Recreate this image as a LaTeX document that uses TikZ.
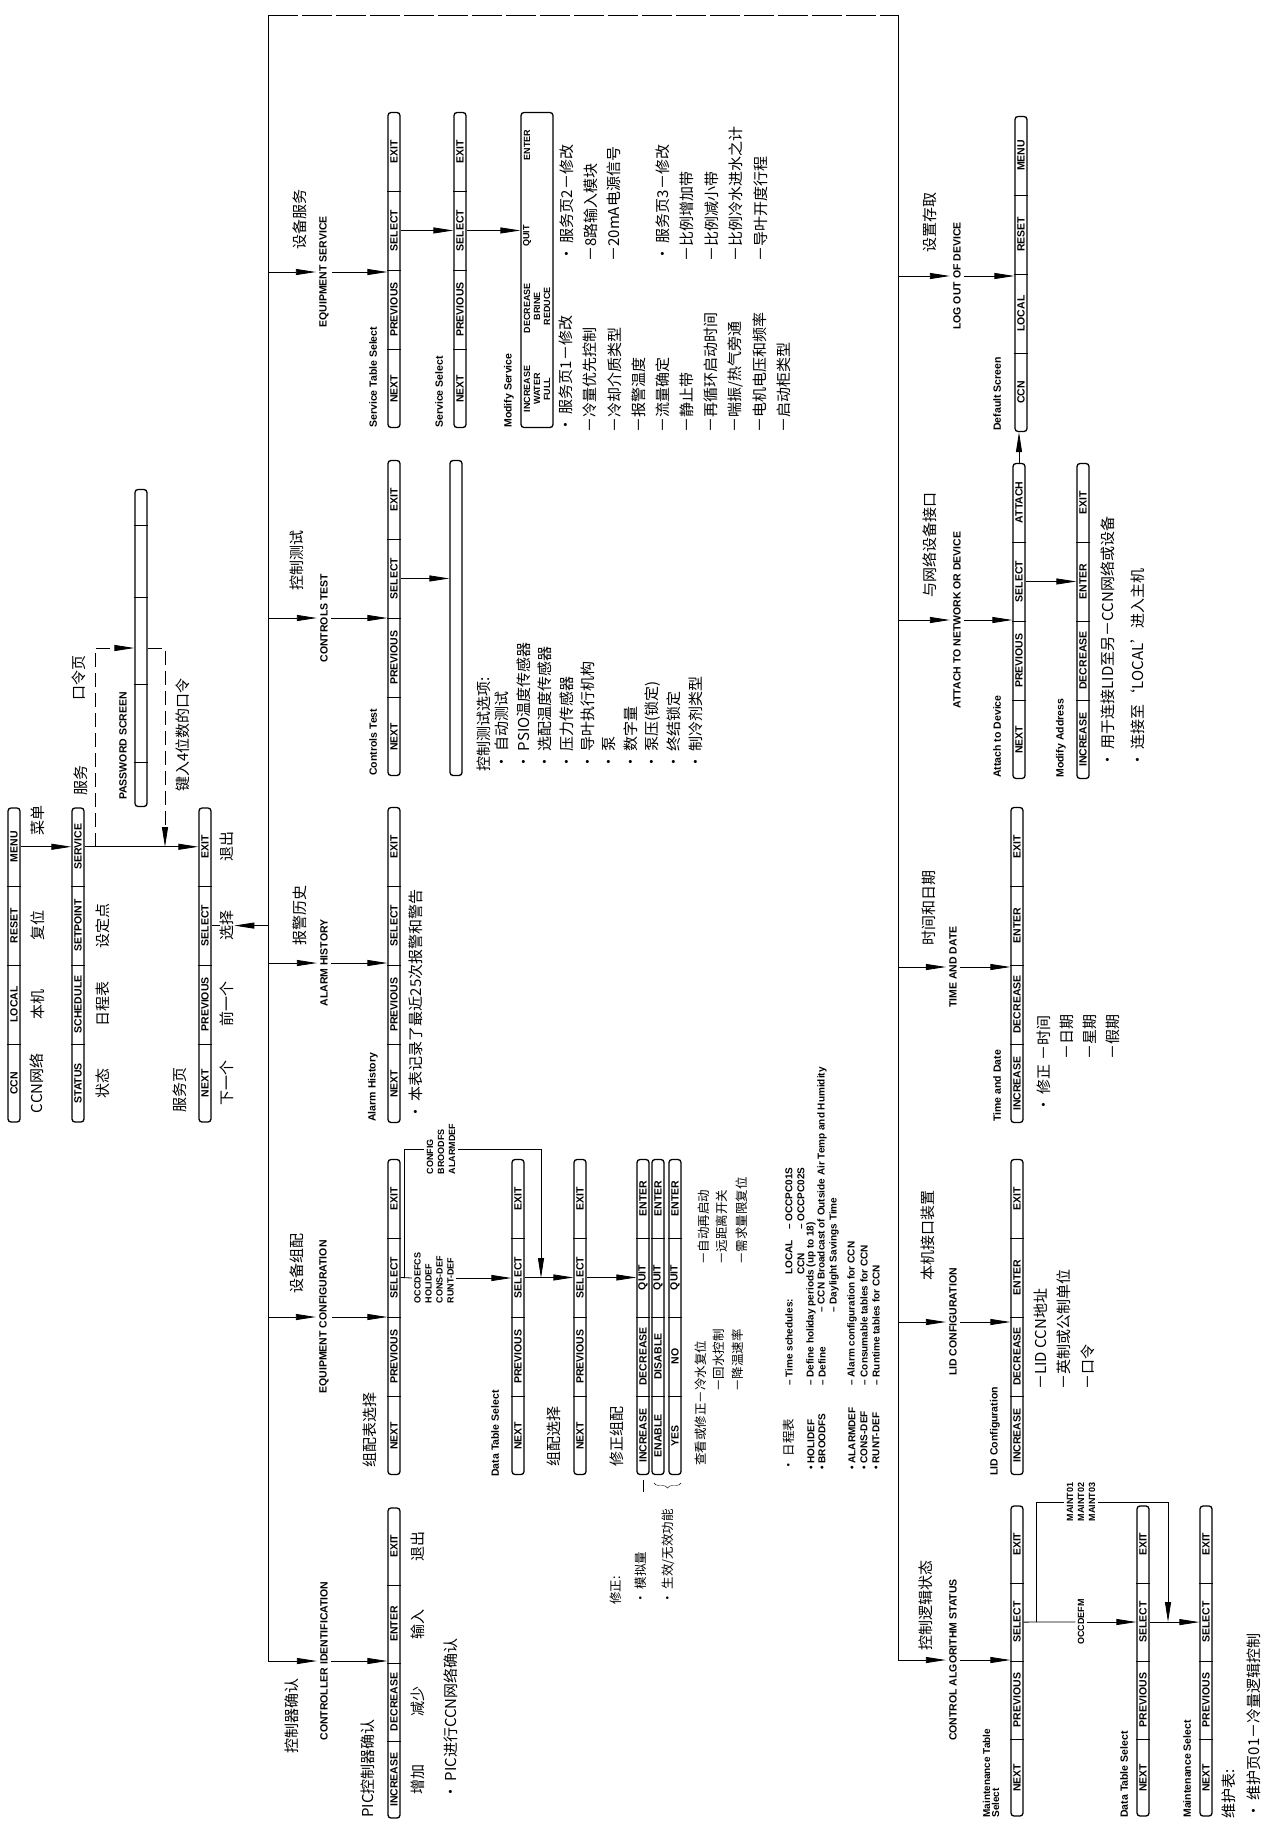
\documentclass[tikz,border=0pt]{standalone}
\usepackage{fontspec}
\newfontfamily\enfont{Liberation Sans}
\newfontfamily\cnfont{Noto Sans CJK SC}
\usetikzlibrary{arrows.meta,calc,decorations.pathreplacing}

\tikzset{
  barbox/.style={draw, line width=1.3pt, rounded corners=3pt, rotate=90,
    minimum width=315pt, minimum height=12pt, inner sep=0pt},
  keytxt/.style={rotate=90, inner sep=0pt, font=\enfont\bfseries\fontsize{10.5}{10.5}\selectfont},
  msrow/.style={rotate=90, inner sep=0pt, font=\enfont\bfseries\fontsize{9}{9}\selectfont},
  branchtxt/.style={rotate=90, inner sep=3pt, font=\enfont\bfseries\fontsize{10.5}{10.5}\selectfont},
  bartxt/.style={rotate=90, anchor=west, inner sep=0pt, font=\enfont\bfseries\fontsize{10.5}{10.5}\selectfont},
  entxt/.style={rotate=90, anchor=west, inner sep=0pt, font=\enfont\bfseries\fontsize{10}{10}\selectfont},
  tagtxt/.style={rotate=90, inner sep=2pt, align=left, font=\enfont\bfseries\fontsize{9}{11}\selectfont},
  cntxt/.style={rotate=90, inner sep=0pt, font=\cnfont\fontsize{15}{15}\selectfont},
  cnlist/.style={cntxt, anchor=west},
  cnsmall/.style={cnlist, font=\cnfont\fontsize{12.5}{12.5}\selectfont},
  arrowto/.style={-{Triangle[length=20pt,width=6pt]}},
  pwdash/.style={dash pattern=on 14pt off 6pt},
}

% soft key bar: name, centre, length, four keys (read from bottom to top)
\newcommand{\keybar}[7]{%
  \node[barbox, minimum width=#3pt] (#1) at (#2) {};
  \path (#1.west) -- (#1.east)
    node[keytxt, pos=.125] (#1-1) {#4}
    node[keytxt, pos=.375] (#1-2) {#5}
    node[keytxt, pos=.625] (#1-3) {#6}
    node[keytxt, pos=.875] (#1-4) {#7};
  \foreach \p in {.25,.5,.75}
    \draw[thin] ($(#1.north west)!\p!(#1.north east)$) -- ($(#1.south west)!\p!(#1.south east)$);
}

\begin{document}
\begin{tikzpicture}[x=1pt, y=-1pt, line width=.8pt]
  \useasboundingbox (0,0) rectangle (1272,1821);
  \fill[white] (0,0) rectangle (1272,1821);

  % MAIN MENU
  \keybar{ma}{14,965}{314}{CCN}{LOCAL}{RESET}{MENU}
  \keybar{mb}{78,965}{314}{STATUS}{SCHEDULE}{SETPOINT}{SERVICE}
  \keybar{mc}{205,965}{314}{NEXT}{PREVIOUS}{SELECT}{EXIT}
  \node[barbox, minimum width=317pt] (pw) at (141,648) {};
  \foreach \p in {.14,.385,.66,.885}
    \draw[thin] ($(pw.north west)!\p!(pw.north east)$) -- ($(pw.south west)!\p!(pw.south east)$);

  \node[cntxt] (ma1t) at ([xshift=23pt]ma-1) {CCN网络};
  \node[cntxt] (ma2t) at ([xshift=24pt]ma-2) {本机};
  \node[cntxt] (ma3t) at ([xshift=24pt]ma-3) {复位};
  \node[cntxt] (ma4t) at (38,820) {菜单};
  \node[cntxt] (mb1t) at ([xshift=25pt]mb-1) {状态};
  \node[cntxt] (mb2t) at ([xshift=25pt]mb-2) {日程表};
  \node[cntxt] (mb3t) at ([xshift=25pt]mb-3) {设定点};
  \node[cntxt] (svc) at (81,780) {服务};
  \node[cntxt] (pwc) at (79,678) {口令页};
  \node[branchtxt, inner sep=0pt] (pwe) at (123,746) {PASSWORD SCREEN};
  \node[cntxt] (pwk) at (183,735) {键入4位数的口令};
  \node[cntxt] (mcl) at (180,1090) {服务页};
  \node[cntxt] (mc1t) at ([xshift=22pt]mc-1) {下一个};
  \node[cntxt] (mc2t) at ([xshift=22pt]mc-2) {前一个};
  \node[cntxt] (mc3t) at ([xshift=22pt]mc-3) {选择};
  \node[cntxt] (mc4t) at ([xshift=22pt]mc-4) {退出};

  \coordinate (pwa) at (95,847);
  \coordinate (pwb) at (165,847);
  \draw[arrowto] (ma-4 -| ma.south) -- (ma-4 -| mb.north);
  \draw[arrowto] (mb-4 -| mb.south) -- (mb-4 -| mc.north);
  \draw[pwdash, arrowto] (pwa) |- (pw.north);
  \draw[pwdash, arrowto] (pw.south) -| (pwb);

  % BUSES
  \coordinate (ltop) at (268,15);
  \coordinate (lbot) at (268,1661);
  \coordinate (rtop) at (898,15);
  \coordinate (rbot) at (898,1660);
  \draw (lbot) -- (ltop);
  \draw[line width=.6pt, dash pattern=on 30pt off 4pt] (ltop) -- (rtop);
  \draw (rtop) -- (rbot);
  \draw (mc-3 -| mc.south) -- (mc3t.north);
  \draw[{Triangle[length=20pt,width=6pt]}-] (mc3t.south) -- (ltop |- mc3t);

  % LEFT BRANCHES
  \keybar{sts}{394,270}{315}{NEXT}{PREVIOUS}{SELECT}{EXIT}
  \keybar{ctb}{394,618}{315}{NEXT}{PREVIOUS}{SELECT}{EXIT}
  \keybar{ahb}{394,965}{315}{NEXT}{PREVIOUS}{SELECT}{EXIT}
  \keybar{cfs}{394,1317}{315}{NEXT}{PREVIOUS}{SELECT}{EXIT}
  \keybar{pic}{394,1663}{310}{INCREASE}{DECREASE}{ENTER}{EXIT}

  \node[branchtxt] (es) at (324,272) {EQUIPMENT SERVICE};
  \node[cntxt] (esc) at (300,219) {设备服务};
  \node[branchtxt] (ct) at (324,618) {CONTROLS TEST};
  \node[cntxt] (ctc) at (297,560) {控制测试};
  \node[branchtxt] (ah) at (324,963) {ALARM HISTORY};
  \node[cntxt] (ahc) at (300,915) {报警历史};
  \node[branchtxt] (ec) at (324,1317) {EQUIPMENT CONFIGURATION};
  \node[cntxt] (ecc) at (297,1263) {设备组配};
  \node[branchtxt] (ci) at (324,1661) {CONTROLLER IDENTIFICATION};
  \node[cntxt] (cic) at (292,1716) {控制器确认};

  \foreach \b/\t in {es/sts, ct/ctb, ah/ahb, ec/cfs} {
    \draw[arrowto] (ltop |- \b) -- (\b.north);
    \draw[arrowto] (\b.south) -- (\b.south -| \t.north);
  }
  \draw[arrowto] (lbot) -- (ci.north);
  \draw[arrowto] (ci.south) -- (ci.south -| pic.north);

  \node[bartxt] (stsl) at (373,428) {Service Table Select};
  \node[bartxt] (ctbl) at (373,776) {Controls Test};
  \node[bartxt] (ahbl) at (373,1122) {Alarm History};
  \node[cnlist] (cfsl) at (370,1468) {组配表选择};
  \node[cnlist] (picl) at (368,1818) {PIC控制器确认};
  \node[cntxt] (pic1t) at ([xshift=24pt]pic-1) {增加};
  \node[cntxt] (pic2t) at ([xshift=24pt]pic-2) {减少};
  \node[cntxt] (pic3t) at ([xshift=24pt]pic-3) {输入};
  \node[cntxt] (pic4t) at ([xshift=24pt]pic-4) {退出};
  \node[cnlist] (picn) at (451,1800) {• PIC进行CCN网络确认};

  % equipment service
  \keybar{ss}{460,270}{315}{NEXT}{PREVIOUS}{SELECT}{EXIT}
  \node[barbox, minimum height=32pt] (ms) at (537,270) {};
  \node[msrow] (ms1) at (527,389) {INCREASE};
  \node[msrow] (ms2) at (527,308) {DECREASE};
  \node[msrow] (ms3) at (527,236) {QUIT};
  \node[msrow] (ms4) at (527,145) {ENTER};
  \node[msrow] (ms5) at (537,389) {WATER};
  \node[msrow] (ms6) at (537,306) {BRINE};
  \node[msrow] (ms7) at (547,389) {FULL};
  \node[msrow] (ms8) at (547,306) {REDUCE};
  \node[bartxt] (ssl) at (439,428) {Service Select};
  \node[bartxt] (msl0) at (509,428) {Modify Service};
  \draw[arrowto] (sts-3 -| sts.south) -- (sts-3 -| ss.north);
  \draw[arrowto] (ss-3 -| ss.south) -- (ss-3 -| ms.north);

  \foreach \lbl [count=\i from 0] in {• 服务页1－修改, －冷量优先控制, －冷却介质类型, －报警温度, －流量确定,
      －静止带, －再循环启动时间, －喘振/热气旁通, －电机电压和频率, －启动柜类型}
    \node[cnlist] (sa\i) at ({566+24.2*\i},433) {\lbl};
  \foreach \x/\lbl [count=\i] in {567/• 服务页2－修改, 591/－8路输入模块, 614/－20mA电源信号,
      663/• 服务页3－修改, 687/－比例增加带, 712/－比例减小带, 736/－比例冷水进水之计, 761/－导叶开度行程}
    \node[cnlist] (sb\i) at (\x,262) {\lbl};

  % controls test
  \node[barbox] (ctt) at (456,618) {};
  \draw[arrowto] (ctb-3 -| ctb.south) -- (ctb-3 -| ctt.north);
  \node[cnlist] (ctl0) at (484,772) {控制测试选项:};
  \foreach \lbl [count=\i] in {• 自动测试, • PSIO温度传感器, • 选配温度传感器, • 压力传感器, • 导叶执行机构,
      • 泵, • 数字量, • 泵压(锁定), • 终结锁定, • 制冷剂类型}
    \node[cnlist] (ctl\i) at ({480.5+21.5*\i},770) {\lbl};

  % alarm history
  \node[cnlist] (ahn) at (416,1120) {• 本表记录了最近25次报警和警告};

  % equipment configuration
  \keybar{dts}{518,1317}{315}{NEXT}{PREVIOUS}{SELECT}{EXIT}
  \keybar{cs2}{580,1317}{315}{NEXT}{PREVIOUS}{SELECT}{EXIT}
  \keybar{mf1}{643,1317}{315}{INCREASE}{DECREASE}{QUIT}{ENTER}
  \keybar{mf2}{658,1317}{315}{ENABLE}{DISABLE}{QUIT}{ENTER}
  \keybar{mf3}{675,1317}{315}{YES}{NO}{QUIT}{ENTER}
  \node[bartxt] (dtsl) at (495,1477) {Data Table Select};
  \node[cnlist] (cs2l) at (554,1467) {组配选择};
  \node[cnlist] (mfl) at (617,1467) {修正组配};

  \node[tagtxt] (occ) at (434,1278) {OCCDEFCS\\HOLIDEF\\CONS-DEF\\RUNT-DEF};
  \node[tagtxt] (cfg) at (441,1149) {CONFIG\\BROODFS\\ALARMDEF};
  \coordinate (cj1) at (404,1278);
  \coordinate (cj2) at (541,1278);
  \draw (cfs-3 -| cfs.south) -- (occ.north);
  \draw[arrowto] (occ.south) -- (occ.south -| dts.north);
  \draw (cj1) |- (cfg.north);
  \draw[arrowto] (cfg.south) -| (cj2);
  \draw[arrowto] (dts-3 -| dts.south) -- (dts-3 -| cs2.north);
  \draw[arrowto] (cs2-3 -| cs2.south) -- (cs2-3 -| mf1.north);

  \draw (643,1480) -- (643,1492);
  \draw[thin, decorate, decoration={brace, amplitude=5pt}] (681,1483) -- (654,1483);
  \node[cnsmall] (mfa) at (616,1605) {修正:};
  \node[cnsmall] (mfb) at (641,1605) {• 模拟量};
  \node[cnsmall] (mfc) at (668,1605) {• 生效/无效功能};

  \node[cnsmall] (vw1) at (701,1466) {查看或修正－冷水复位};
  \node[cnsmall] (vw2) at (719,1392) {－回水控制};
  \node[cnsmall] (vw3) at (738,1392) {－降温速率};
  \node[cnsmall] (vw4) at (704,1265) {－自动再启动};
  \node[cnsmall] (vw5) at (722,1265) {－远距离开关};
  \node[cnsmall] (vw6) at (742,1265) {－需求量限复位};

  \node[cnsmall] (sch0) at (789,1472) {• 日程表};
  \node[entxt] (sch1) at (789,1386) {– Time schedules:};
  \node[entxt] (sch2) at (789,1275) {LOCAL};
  \node[entxt] (sch3) at (801,1275) {CCN};
  \node[entxt] (sch4) at (789,1230) {– OCCPC01S};
  \node[entxt] (sch5) at (801,1230) {– OCCPC02S};
  \node[entxt] (hol0) at (811,1470) {• HOLIDEF};
  \node[entxt] (hol1) at (811,1386) {– Define holiday periods (up to 18)};
  \node[entxt] (brd0) at (822,1470) {• BROODFS};
  \node[entxt] (brd1) at (822,1386) {– Define};
  \node[entxt] (brd2) at (822,1313) {– CCN Broadcast of Outside Air Temp and Humidity};
  \node[entxt] (brd3) at (834,1313) {– Daylight Savings Time};
  \node[entxt] (alm0) at (852,1470) {• ALARMDEF};
  \node[entxt] (alm1) at (852,1386) {– Alarm configuration for CCN};
  \node[entxt] (con0) at (864,1470) {• CONS-DEF};
  \node[entxt] (con1) at (864,1386) {– Consumable tables for CCN};
  \node[entxt] (run0) at (876,1470) {• RUNT-DEF};
  \node[entxt] (run1) at (876,1386) {– Runtime tables for CCN};

  % RIGHT BRANCHES
  \keybar{dsc}{1021,274}{315}{CCN}{LOCAL}{RESET}{MENU}
  \keybar{atd}{1019,621}{315}{NEXT}{PREVIOUS}{SELECT}{ATTACH}
  \keybar{mad}{1083,621}{315}{INCREASE}{DECREASE}{ENTER}{EXIT}
  \keybar{tdb}{1017,965}{315}{INCREASE}{DECREASE}{ENTER}{EXIT}
  \keybar{lcb}{1017,1317}{315}{INCREASE}{DECREASE}{ENTER}{EXIT}
  \keybar{mts}{1017,1661}{310}{NEXT}{PREVIOUS}{SELECT}{EXIT}
  \keybar{dtr}{1143,1661}{310}{NEXT}{PREVIOUS}{SELECT}{EXIT}
  \keybar{msl}{1206,1661}{310}{NEXT}{PREVIOUS}{SELECT}{EXIT}

  \node[branchtxt] (lo) at (957,276) {LOG OUT OF DEVICE};
  \node[cntxt] (loc) at (930,222) {设置存取};
  \node[branchtxt] (atn) at (957,620) {ATTACH TO NETWORK OR DEVICE};
  \node[cntxt] (atc) at (930,545) {与网络设备接口};
  \node[branchtxt] (td) at (953,967) {TIME AND DATE};
  \node[cntxt] (tdc) at (929,908) {时间和日期};
  \node[branchtxt] (lc) at (953,1322) {LID CONFIGURATION};
  \node[cntxt] (lcc) at (928,1235) {本机接口装置};
  \node[branchtxt] (ca) at (953,1660) {CONTROL ALGORITHM STATUS};
  \node[cntxt] (cac) at (926,1605) {控制逻辑状态};

  \foreach \b/\t in {lo/dsc, atn/atd, td/tdb, lc/lcb} {
    \draw[arrowto] (rtop |- \b) -- (\b.north);
    \draw[arrowto] (\b.south) -- (\b.south -| \t.north);
  }
  \draw[arrowto] (rbot) -- (ca.north);
  \draw[arrowto] (ca.south) -- (ca.south -| mts.north);
  \draw[arrowto] (atd.east) -- (atd.east |- dsc.west);
  \draw[arrowto] (atd-3 -| atd.south) -- (atd-3 -| mad.north);

  \node[bartxt] (dscl) at (997,431) {Default Screen};
  \node[bartxt] (atdl) at (997,778) {Attach to Device};
  \node[bartxt] (madl) at (1061,778) {Modify Address};
  \node[bartxt] (tdbl) at (997,1122) {Time and Date};
  \node[bartxt] (lcbl) at (995,1476) {LID Configuration};
  \node[bartxt, align=left, font=\enfont\bfseries\fontsize{10}{9}\selectfont] (mtsl) at (991,1818) {Maintenance Table\\Select};
  \node[bartxt] (dtrl) at (1124,1818) {Data Table Select};
  \node[bartxt] (msll) at (1187,1818) {Maintenance Select};

  \node[cnlist] (atl1) at (1108,768) {• 用于连接LID至另－CCN网络或设备};
  \node[cnlist] (atl2) at (1138,768) {• 连接至‘LOCAL’进入主机};
  \node[cnlist] (tdl1) at (1044,1113) {• 修正 －时间};
  \node[cnlist] (tdl2) at (1067,1060) {－日期};
  \node[cnlist] (tdl3) at (1090,1060) {－星期};
  \node[cnlist] (tdl4) at (1113,1060) {－假期};
  \node[cnlist] (lid1) at (1041,1390) {－LID CCN地址};
  \node[cnlist] (lid2) at (1064,1390) {－英制或公制单位};
  \node[cnlist] (lid3) at (1088,1390) {－口令};

  % maintenance
  \node[tagtxt] (occm) at (1081,1622) {OCCDEFM};
  \node[tagtxt, align=center] (maint) at (1081,1502) {MAINT01\\MAINT02\\MAINT03};
  \coordinate (mj1) at (1036,1622);
  \coordinate (mj2) at (1168,1622);
  \draw (mts-3 -| mts.south) -- (occm.north);
  \draw[arrowto] (occm.south) -- (occm.south -| dtr.north);
  \draw (mj1) |- (maint.north);
  \draw[arrowto] (maint.south) -| (mj2);
  \draw[arrowto] (dtr-3 -| dtr.south) -- (dtr-3 -| msl.north);
  \node[cnlist] (mtl0) at (1229,1819) {维护表:};
  \node[cnlist] (mtl1) at (1254,1819) {• 维护页01－冷量逻辑控制};
\end{tikzpicture}
\end{document}
